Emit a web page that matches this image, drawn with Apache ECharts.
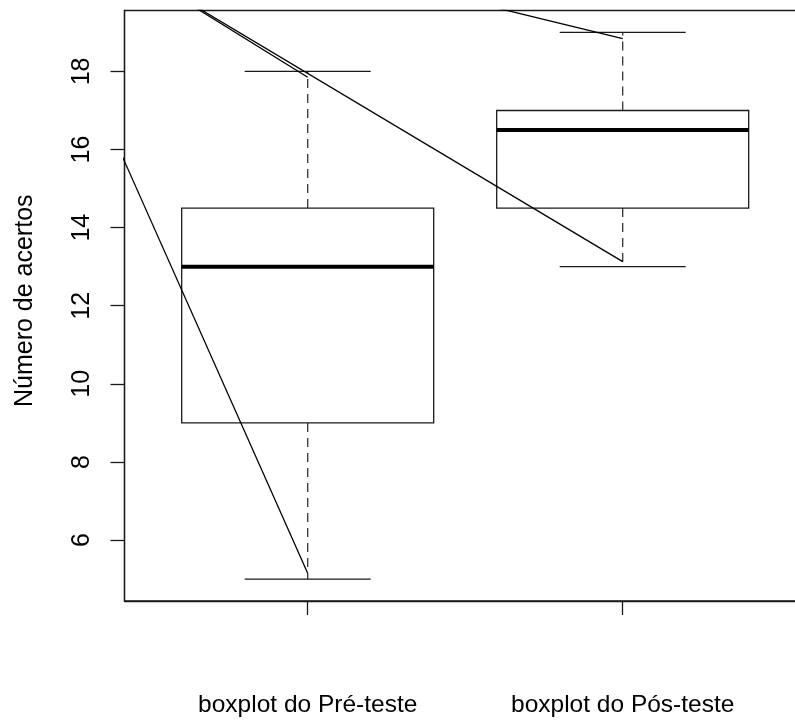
<!DOCTYPE html>
<html>
<head>
<meta charset="utf-8">
<script src="https://cdn.jsdelivr.net/npm/echarts@6/dist/echarts.min.js"></script>
<style>
html,body{margin:0;padding:0;background:#fff;}
#chart{width:795px;height:720px;}
</style>
</head>
<body>
<div id="chart"></div>
<script>
// ---- data ----
const categories = ['boxplot do Pré-teste', 'boxplot do Pós-teste'];
const categoryPos = [1, 2];
const whiskerLow = [5, 13];
const q1 = [9, 14.5];
const median = [13, 16.5];
const q3 = [14.5, 17];
const whiskerHigh = [18, 19];
const yTicks = [6, 8, 10, 12, 14, 16, 18];
const yTitle = 'Número de acertos';

// straight segments drawn over the plot (clipped to the plot region)
const segStartX = [0.4, 0.45, 0.45, 1.45];
const segStartY = [16.03, 20.6, 20.6, 19.92];
const segEndX = [1, 1, 2, 2];
const segEndY = [5.15, 17.85, 13.13, 18.84];

// ---- chart ----
const boxRows = categoryPos.map((x, i) => [x, whiskerLow[i], q1[i], median[i], q3[i], whiskerHigh[i]]);
const FONT = 'Liberation Sans, Arial, sans-serif';
const BOXWEX = 0.8;

function renderBox(params, api) {
  const x = api.value(0);
  const pLo = api.coord([x, api.value(1)]);
  const pQ1 = api.coord([x, api.value(2)]);
  const pMed = api.coord([x, api.value(3)]);
  const pQ3 = api.coord([x, api.value(4)]);
  const pHi = api.coord([x, api.value(5)]);
  const bw = api.size([BOXWEX, 0])[0];
  const half = bw / 2;
  const cap = bw / 4;
  const cx = pMed[0];
  const stroke = '#1a1a1a';
  return {
    type: 'group',
    children: [
      { type: 'line', shape: { x1: cx, y1: pQ3[1], x2: cx, y2: pHi[1] },
        style: { stroke: '#333', lineWidth: 1.3, lineDash: [9, 6] } },
      { type: 'line', shape: { x1: cx, y1: pQ1[1], x2: cx, y2: pLo[1] },
        style: { stroke: '#333', lineWidth: 1.3, lineDash: [9, 6] } },
      { type: 'line', shape: { x1: cx - cap, y1: pHi[1], x2: cx + cap, y2: pHi[1] },
        style: { stroke: stroke, lineWidth: 1.3 } },
      { type: 'line', shape: { x1: cx - cap, y1: pLo[1], x2: cx + cap, y2: pLo[1] },
        style: { stroke: stroke, lineWidth: 1.3 } },
      { type: 'rect', shape: { x: cx - half, y: pQ3[1], width: bw, height: pQ1[1] - pQ3[1] },
        style: { fill: 'none', stroke: stroke, lineWidth: 1.3 } },
      { type: 'line', shape: { x1: cx - half, y1: pMed[1], x2: cx + half, y2: pMed[1] },
        style: { stroke: '#000', lineWidth: 4 } }
    ]
  };
}

const segSeries = segStartX.map((_, i) => ({
  type: 'line',
  data: [[segStartX[i], segStartY[i]], [segEndX[i], segEndY[i]]],
  showSymbol: false,
  symbol: 'none',
  clip: true,
  silent: true,
  animation: false,
  lineStyle: { color: '#000', width: 1.3 },
  z: 5
}));

const chart = echarts.init(document.getElementById('chart'), null, { renderer: 'canvas' });
chart.setOption({
  animation: false,
  backgroundColor: '#fff',
  grid: {
    left: 124.5, top: 10.5, width: 681.4, height: 590.5,
    containLabel: false,
    outerBoundsMode: 'none',
    show: true, borderColor: '#1a1a1a', borderWidth: 1.3, backgroundColor: 'transparent'
  },
  xAxis: {
    type: 'value',
    min: 0.4184, max: 2.5816,
    splitLine: { show: false },
    axisLine: { show: true, lineStyle: { color: '#1a1a1a', width: 1.3 } },
    axisTick: { show: true, length: 14, customValues: categoryPos, lineStyle: { color: '#1a1a1a', width: 1.3 } },
    axisLabel: {
      customValues: categoryPos,
      formatter: v => categories[categoryPos.indexOf(Math.round(v))] || '',
      margin: 92,
      fontFamily: FONT, fontSize: 24.5, color: '#000'
    }
  },
  yAxis: {
    type: 'value',
    min: 4.44, max: 19.56,
    name: yTitle,
    nameLocation: 'middle',
    nameRotate: 90,
    nameGap: 87,
    nameTextStyle: { fontFamily: FONT, fontSize: 25, color: '#000', padding: [0, 0, 0, 10] },
    splitLine: { show: false },
    axisLine: { show: true, lineStyle: { color: '#1a1a1a', width: 1.3 } },
    axisTick: { show: true, length: 14, customValues: yTicks, lineStyle: { color: '#1a1a1a', width: 1.3 } },
    axisLabel: {
      customValues: yTicks,
      rotate: 90,
      margin: 30,
      fontFamily: FONT, fontSize: 25, color: '#000'
    }
  },
  series: [
    {
      type: 'custom',
      renderItem: renderBox,
      data: boxRows,
      encode: { x: 0, y: [1, 2, 3, 4, 5] },
      clip: true,
      z: 3
    }
  ].concat(segSeries)
});
</script>
</body>
</html>
